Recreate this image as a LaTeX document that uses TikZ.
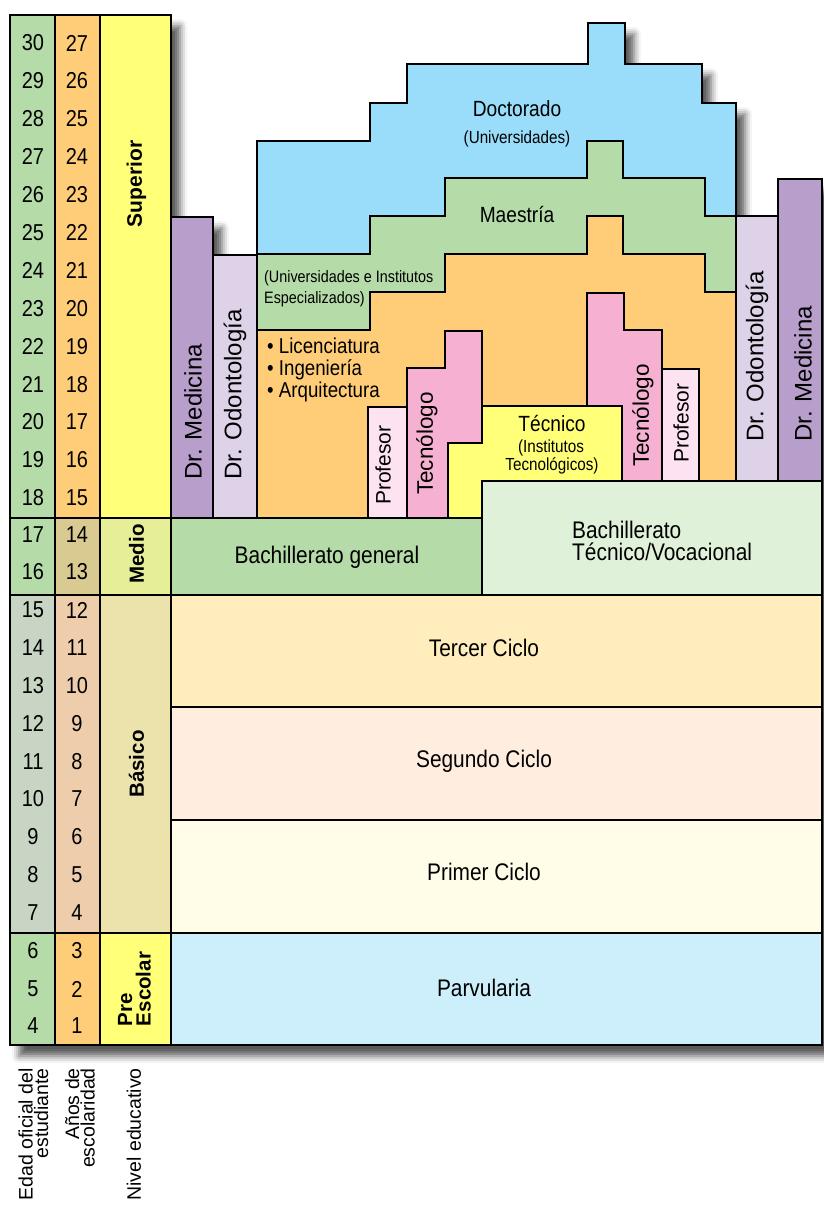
\documentclass[tikz,border=0pt]{standalone}
\usepackage{fontspec}
\setmainfont{Liberation Sans}
\newfontfamily\narrowfont{Liberation Sans}[FakeStretch=0.87]
\usetikzlibrary{shadows.blur}

% fills
\definecolor{cBlue}{RGB}{153,221,250}
\definecolor{cGreen}{RGB}{181,219,168}
\definecolor{cOrange}{RGB}{255,205,120}
\definecolor{cYellow}{RGB}{255,255,120}
\definecolor{cPink}{RGB}{246,177,210}
\definecolor{cPinkLight}{RGB}{253,226,242}
\definecolor{cPurple}{RGB}{184,158,202}
\definecolor{cLavender}{RGB}{221,210,232}
\definecolor{cBachTec}{RGB}{224,241,218}
\definecolor{cTercer}{RGB}{255,237,190}
\definecolor{cSegundo}{RGB}{255,238,224}
\definecolor{cPrimer}{RGB}{255,253,232}
\definecolor{cParv}{RGB}{204,239,251}
\definecolor{cMedioB}{RGB}{216,202,145}
\definecolor{cMedioC}{RGB}{230,238,152}
\definecolor{cBasA}{RGB}{200,212,196}
\definecolor{cBasB}{RGB}{238,205,172}
\definecolor{cBasC}{RGB}{236,226,172}

\tikzset{
  blk/.style={draw=black, line width=1.3pt, line join=miter},
  num/.style={inner sep=0pt, font=\narrowfont\fontsize{23}{23}\selectfont},
  lvl/.style={inner sep=0pt, rotate=90, align=left, font=\bfseries\fontsize{20.5}{18.5}\selectfont},
  lab/.style={inner sep=0pt, anchor=base, font=\narrowfont\fontsize{24}{24}\selectfont},
  labw/.style={inner sep=0pt, anchor=base west, font=\narrowfont\fontsize{24}{24}\selectfont},
  mid/.style={inner sep=0pt, anchor=base, font=\narrowfont\fontsize{22}{22}\selectfont},
  small/.style={inner sep=0pt, anchor=base, font=\narrowfont\fontsize{17.5}{17.5}\selectfont},
  bullet/.style={inner sep=0pt, anchor=base west, font=\narrowfont\fontsize{21.5}{21.5}\selectfont},
  vlab/.style={inner sep=0pt, rotate=90, anchor=west},
  foot/.style={inner sep=0pt, rotate=90, anchor=east, align=right, font=\fontsize{19.5}{15.5}\selectfont},
}

\begin{document}
\begin{tikzpicture}[x=1pt, y=-1pt]
\useasboundingbox (0,0) rectangle (823,1205);

% outer silhouette carrying the drop shadow
\fill[white, blur shadow={shadow xshift=9pt, shadow yshift=-11pt, shadow blur radius=7pt, shadow opacity=65}]
  (10,15) -- (171,15) -- (171,217) -- (213,217) -- (213,255) -- (257,255)
  -- (257,141) -- (370,141) -- (370,103) -- (407,103) -- (407,64) -- (588,64)
  -- (588,23) -- (625,23) -- (625,64) -- (702,64) -- (702,103) -- (736,103)
  -- (736,216) -- (778,216) -- (778,179) -- (822,179) -- (822,1045) -- (10,1045) -- cycle;

% ---- left columns: age, years of schooling, level ----
\draw[blk, fill=cGreen]  (10,15) rectangle (55,518);
\draw[blk, fill=cOrange] (55,15) rectangle (100,518);
\draw[blk, fill=cYellow] (100,15) rectangle (171,518);
\draw[blk, fill=cGreen]  (10,518) rectangle (55,595);
\draw[blk, fill=cMedioB] (55,518) rectangle (100,595);
\draw[blk, fill=cMedioC] (100,518) rectangle (171,595);
\draw[blk, fill=cBasA]   (10,595) rectangle (55,933);
\draw[blk, fill=cBasB]   (55,595) rectangle (100,933);
\draw[blk, fill=cBasC]   (100,595) rectangle (171,933);
\draw[blk, fill=cGreen]  (10,933) rectangle (55,1045);
\draw[blk, fill=cOrange] (55,933) rectangle (100,1045);
\draw[blk, fill=cYellow] (100,933) rectangle (171,1045);

% ages 30..18 and years 27..15
\foreach \i in {0,...,12}{
  \pgfmathtruncatemacro{\age}{30-\i}
  \pgfmathtruncatemacro{\yr}{27-\i}
  \node[num] (age\age) at (33,43+37.9*\i) {\age};
  \node[num] (yr\yr) at (77,43+37.9*\i) {\yr};
}
\node[num] (age17) at (33,535) {17};
\node[num] (yr14) at (77,535) {14};
\node[num] (age16) at (33,572) {16};
\node[num] (yr13) at (77,572) {13};
\foreach \i in {0,...,8}{
  \pgfmathtruncatemacro{\age}{15-\i}
  \pgfmathtruncatemacro{\yr}{12-\i}
  \node[num] (age\age) at (33,610+37.8*\i) {\age};
  \node[num] (yr\yr) at (77,610+37.8*\i) {\yr};
}
\node[num] (age6) at (33,951) {6};
\node[num] (yr3) at (77,951) {3};
\node[num] (age5) at (33,989) {5};
\node[num] (yr2) at (77,989) {2};
\node[num] (age4) at (33,1026) {4};
\node[num] (yr1) at (77,1026) {1};

\node[lvl, font=\bfseries\fontsize{21}{21}\selectfont] (superior) at (136.5,184) {Superior};
\node[lvl] (medio) at (136.5,554) {Medio};
\node[lvl] (basico) at (136.5,764) {Básico};
\node[lvl] (preescolar) at (134.5,989) {Pre\\Escolar};

% ---- higher education ----
\draw[blk, fill=cPurple]   (171,217) rectangle (213,518);
\draw[blk, fill=cLavender] (213,255) rectangle (257,518);

\draw[blk, fill=cOrange] (257,518) -- (257,330) -- (370,330) -- (370,292) -- (445,292)
  -- (445,254) -- (587,254) -- (587,216) -- (623,216) -- (623,254) -- (705,254)
  -- (705,292) -- (736,292) -- (736,481) -- (482,481) -- (482,518) -- cycle;

\draw[blk, fill=cGreen] (257,254) -- (370,254) -- (370,216) -- (445,216) -- (445,178)
  -- (587,178) -- (587,141) -- (623,141) -- (623,178) -- (705,178) -- (705,216)
  -- (736,216) -- (736,292) -- (705,292) -- (705,254) -- (623,254) -- (623,216)
  -- (587,216) -- (587,254) -- (445,254) -- (445,292) -- (370,292) -- (370,330)
  -- (257,330) -- cycle;

\draw[blk, fill=cBlue] (257,254) -- (257,141) -- (370,141) -- (370,103) -- (407,103)
  -- (407,64) -- (588,64) -- (588,23) -- (625,23) -- (625,64) -- (702,64) -- (702,103)
  -- (736,103) -- (736,216) -- (705,216) -- (705,178) -- (623,178) -- (623,141)
  -- (587,141) -- (587,178) -- (445,178) -- (445,216) -- (370,216) -- (370,254) -- cycle;

\draw[blk, fill=cPinkLight] (368,407) rectangle (407,518);
\draw[blk, fill=cPink] (407,518) -- (407,368) -- (445,368) -- (445,331) -- (482,331)
  -- (482,443) -- (448,443) -- (448,518) -- cycle;
\draw[blk, fill=cYellow] (448,443) -- (482,443) -- (482,406) -- (622,406) -- (622,481)
  -- (482,481) -- (482,518) -- (448,518) -- cycle;
\draw[blk, fill=cPink] (587,406) -- (587,293) -- (624,293) -- (624,330) -- (662,330)
  -- (662,481) -- (622,481) -- (622,406) -- cycle;
\draw[blk, fill=cPinkLight] (662,369) rectangle (699,481);
\draw[blk, fill=cLavender] (736,216) rectangle (778,481);
\draw[blk, fill=cPurple]   (778,179) rectangle (822,481);

\node[mid] (doc) at (517,116) {Doctorado};
\node[small] (docinst) at (517,143.5) {(Universidades)};
\node[mid] (mae) at (517,222.5) {Maestría};
\node[inner sep=0pt, anchor=base west, font=\narrowfont\fontsize{16.5}{16.5}\selectfont] (uni1) at (264,282) {(Universidades e Institutos};
\node[inner sep=0pt, anchor=base west, font=\narrowfont\fontsize{16.5}{16.5}\selectfont] (uni2) at (264,303.5) {Especializados)};
\node[bullet] (lic) at (267,353) {• Licenciatura};
\node[bullet] (ing) at (267,375) {• Ingeniería};
\node[bullet] (arq) at (267,397) {• Arquitectura};
\node[mid] (tec) at (552,431.5) {Técnico};
\node[small] (tec1) at (551,452.5) {(Institutos};
\node[small] (tec2) at (552,470) {Tecnológicos)};

\node[vlab, font=\fontsize{24}{24}\selectfont] (medL) at (193,480) {Dr. Medicina};
\node[vlab, font=\fontsize{24}{24}\selectfont] (odoL) at (235,480) {Dr. Odontología};
\node[vlab, font=\fontsize{21}{21}\selectfont] (profL) at (383,505) {Profesor};
\node[vlab, font=\fontsize{22.5}{22.5}\selectfont] (tecnL) at (427,495) {Tecnólogo};
\node[vlab, font=\fontsize{22.5}{22.5}\selectfont] (tecnR) at (643,467) {Tecnólogo};
\node[vlab, font=\fontsize{21}{21}\selectfont] (profR) at (681,463) {Profesor};
\node[vlab, font=\fontsize{24}{24}\selectfont] (odoR) at (757,442) {Dr. Odontología};
\node[vlab, font=\fontsize{24}{24}\selectfont] (medR) at (803,442) {Dr. Medicina};

% ---- secondary ----
\draw[blk, fill=cGreen]   (171,518) rectangle (482,595);
\draw[blk, fill=cBachTec] (482,481) rectangle (822,595);
\node[lab] (bgen) at (327,563) {Bachillerato general};
\node[labw] (btec1) at (572,538.5) {Bachillerato};
\node[labw] (btec2) at (572,560.5) {Técnico/Vocacional};

% ---- basic and pre-school ----
\draw[blk, fill=cTercer]  (171,595) rectangle (822,707);
\draw[blk, fill=cSegundo] (171,707) rectangle (822,820);
\draw[blk, fill=cPrimer]  (171,820) rectangle (822,933);
\draw[blk, fill=cParv]    (171,933) rectangle (822,1045);
\node[lab] (tercer) at (484,656.5) {Tercer Ciclo};
\node[lab] (segundo) at (484,767) {Segundo Ciclo};
\node[lab] (primer) at (484,880.5) {Primer Ciclo};
\node[lab] (parv) at (484,996) {Parvularia};

% ---- column captions ----
\node[foot] (capage) at (33.5,1068) {Edad oficial del\\estudiante};
\node[foot] (capyr) at (80,1068) {Años de\\escolaridad};
\node[foot] (caplvl) at (134,1068) {Nivel educativo};
\end{tikzpicture}
\end{document}
